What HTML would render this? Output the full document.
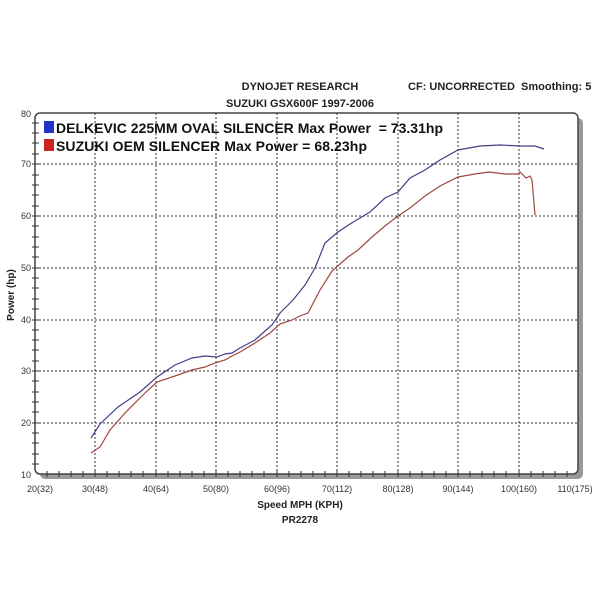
<!DOCTYPE html>
<html><head><style>body{margin:0;background:#fff}svg{display:block}</style></head><body>
<svg width="600" height="600" xmlns="http://www.w3.org/2000/svg" font-family="Liberation Sans, sans-serif">
<rect width="600" height="600" fill="#fff"/>
<text x="300" y="90" font-size="11" font-weight="bold" text-anchor="middle" fill="#222">DYNOJET RESEARCH</text>
<text x="300" y="107" font-size="11" font-weight="bold" text-anchor="middle" fill="#222">SUZUKI GSX600F 1997-2006</text>
<text x="408" y="90" font-size="11" font-weight="bold" fill="#222" xml:space="preserve">CF: UNCORRECTED  Smoothing: 5</text>
<rect x="40" y="118" width="543" height="361" rx="5" fill="#999"/>
<rect x="35" y="113" width="543" height="361" rx="5" fill="#fff" stroke="#444" stroke-width="1.5"/>
<g stroke="#333" stroke-width="1" stroke-dasharray="2,2">
<line x1="95" y1="113" x2="95" y2="474"/><line x1="156" y1="113" x2="156" y2="474"/><line x1="216" y1="113" x2="216" y2="474"/><line x1="277" y1="113" x2="277" y2="474"/><line x1="337" y1="113" x2="337" y2="474"/><line x1="398" y1="113" x2="398" y2="474"/><line x1="458" y1="113" x2="458" y2="474"/><line x1="519" y1="113" x2="519" y2="474"/>
<line x1="35" y1="164" x2="578" y2="164"/><line x1="35" y1="216" x2="578" y2="216"/><line x1="35" y1="268" x2="578" y2="268"/><line x1="35" y1="320" x2="578" y2="320"/><line x1="35" y1="371" x2="578" y2="371"/><line x1="35" y1="423" x2="578" y2="423"/>
</g>
<g stroke="#333" stroke-width="1">
<path d="M47,471v6M59,471v6M71,471v6M83,471v6M95,470v7M107,471v6M119,471v6M131,471v6M143,471v6M156,470v7M168,471v6M180,471v6M192,471v6M204,471v6M216,470v7M228,471v6M240,471v6M252,471v6M264,471v6M277,470v7M289,471v6M301,471v6M313,471v6M325,471v6M337,470v7M349,471v6M361,471v6M373,471v6M385,471v6M398,470v7M410,471v6M422,471v6M434,471v6M446,471v6M458,470v7M470,471v6M482,471v6M494,471v6M506,471v6M519,470v7M531,471v6M543,471v6M555,471v6M567,471v6"/>
<path d="M32,123h7M32,133h7M32,143h7M32,154h7M32,164h7M32,175h7M32,185h7M32,195h7M32,206h7M32,216h7M32,226h7M32,237h7M32,247h7M32,257h7M32,268h7M32,278h7M32,288h7M32,299h7M32,309h7M32,320h7M32,330h7M32,340h7M32,350h7M32,361h7M32,371h7M32,381h7M32,392h7M32,402h7M32,412h7M32,423h7M32,433h7M32,443h7M32,454h7M32,464h7"/>
</g>
<g font-size="9" fill="#333" text-anchor="end">
<text x="31" y="117">80</text><text x="31" y="167">70</text><text x="31" y="219">60</text><text x="31" y="271">50</text><text x="31" y="323">40</text><text x="31" y="374">30</text><text x="31" y="426">20</text><text x="31" y="478">10</text>
</g>
<g font-size="9" fill="#333" text-anchor="middle">
<text x="40" y="492">20(32)</text><text x="95" y="492">30(48)</text><text x="156" y="492">40(64)</text><text x="216" y="492">50(80)</text><text x="277" y="492">60(96)</text><text x="337" y="492">70(112)</text><text x="398" y="492">80(128)</text><text x="458" y="492">90(144)</text><text x="519" y="492">100(160)</text><text x="575" y="492">110(175)</text>
</g>
<text x="300" y="508" font-size="10" font-weight="bold" text-anchor="middle" fill="#222">Speed MPH (KPH)</text>
<text x="300" y="523" font-size="10" font-weight="bold" text-anchor="middle" fill="#222">PR2278</text>
<text transform="translate(14,295) rotate(-90)" font-size="10" font-weight="bold" text-anchor="middle" fill="#222">Power (hp)</text>
<rect x="44" y="121" width="10" height="12" fill="#2233cc"/>
<rect x="44" y="139" width="10" height="12" fill="#cc2222"/>
<text x="56" y="133" font-size="14" font-weight="bold" fill="#111" textLength="387" xml:space="preserve">DELKEVIC 225MM OVAL SILENCER Max Power  = 73.31hp</text>
<text x="56" y="151" font-size="14" font-weight="bold" fill="#111" textLength="311">SUZUKI OEM SILENCER Max Power = 68.23hp</text>
<polyline fill="none" stroke="#443d8a" stroke-width="1.2" points="91,438 100,424 118,407 140,392 157,377 175,365 192,358 205,356 217,357 225,354 232,353 240,348 255,340 265,331 272,325 280,313 293,300 305,285 315,268 325,243 338,232 350,224 370,212 385,198 398,192 410,178 425,170 440,160 458,150 480,146 500,145 520,146 535,146 544,149"/>
<polyline fill="none" stroke="#a0463e" stroke-width="1.2" points="91,453 100,447 110,430 125,413 145,393 157,382 175,376 192,370 205,367 215,363 225,360 232,356 240,352 255,343 270,333 280,324 292,320 300,316 308,313 320,290 332,271 348,257 358,250 372,237 385,226 398,216 410,208 425,196 440,186 458,177 475,174 489,172 505,174 518,174 520,172 526,178 530,176 532,180 535,215"/>
</svg>
</body></html>
